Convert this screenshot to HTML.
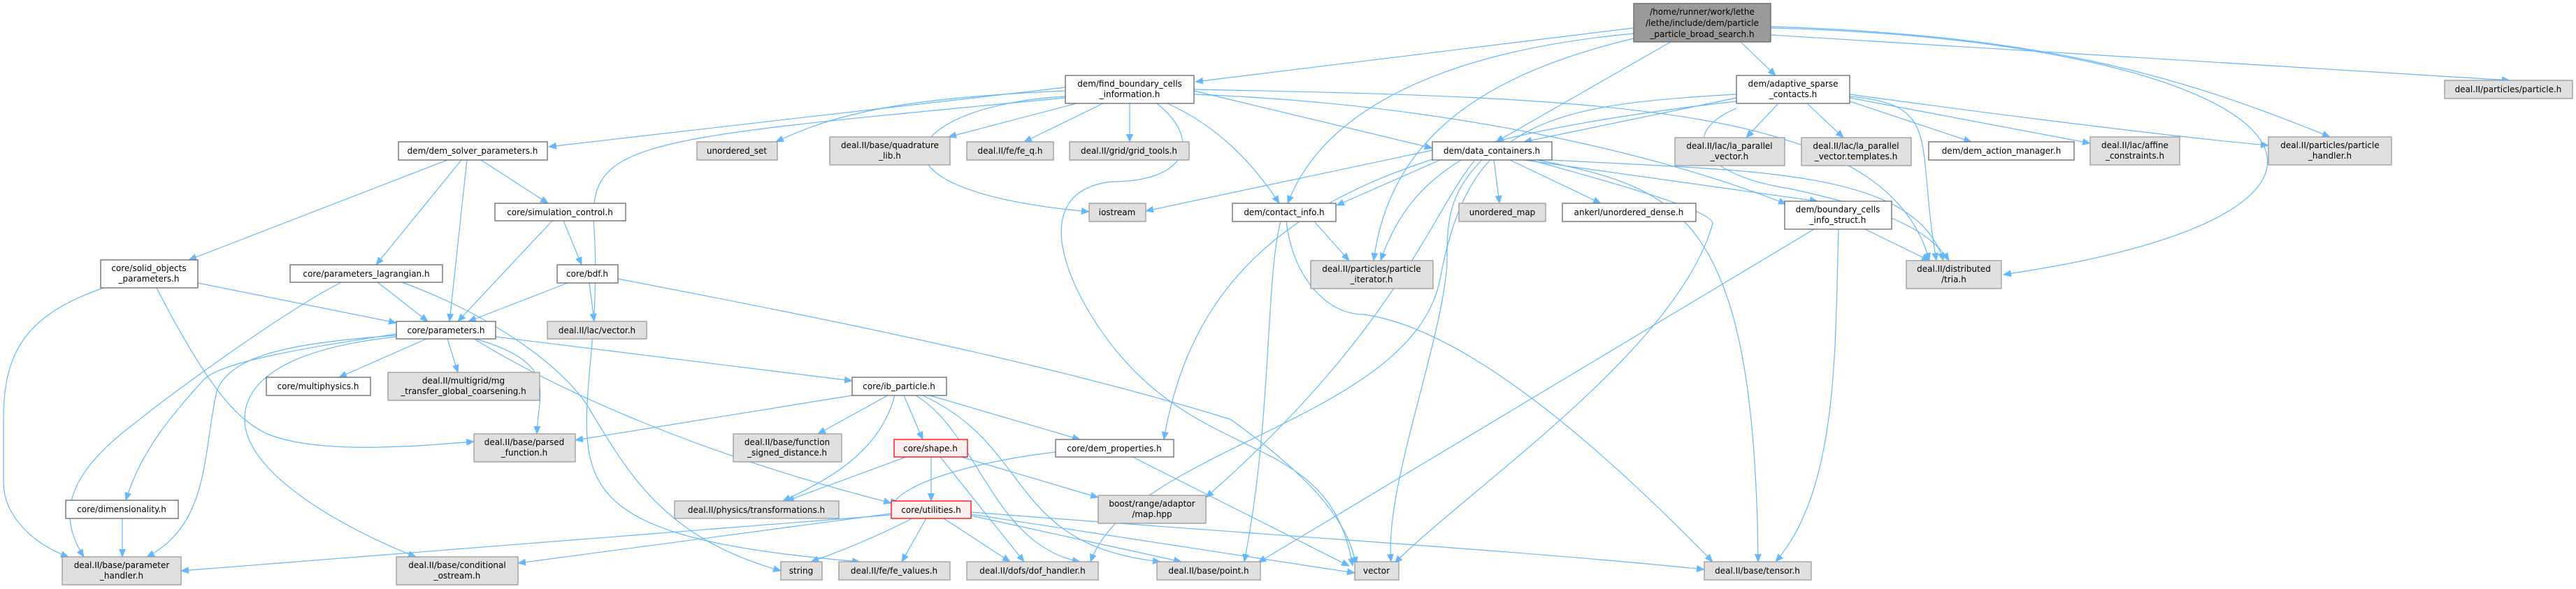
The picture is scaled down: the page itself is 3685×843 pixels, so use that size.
<!DOCTYPE html>
<html><head><meta charset="utf-8"><style>
html,body{margin:0;padding:0;background:#fff;}
svg{display:block;}
text{font-family:"DejaVu Sans","Liberation Sans",sans-serif;font-size:12px;fill:#000;text-anchor:middle;}
.w{fill:#fff;stroke:#666;stroke-width:1.3}
.g{fill:#e0e0e0;stroke:#999;stroke-width:1.3}
.r{fill:#fff0f0;stroke:#f00;stroke-width:1.3}
.t{fill:#999;stroke:#666;stroke-width:1.3}
.e path{fill:none;stroke:#63b8ff;stroke-width:1.2;marker-end:url(#a)}
</style></head><body>
<svg width="3685" height="843" viewBox="0 0 3685 843" xmlns="http://www.w3.org/2000/svg">
<defs><marker id="a" markerWidth="12" markerHeight="10" refX="11" refY="5" orient="auto" markerUnits="userSpaceOnUse"><path d="M0,0 L12,5 L0,10 z" fill="#63b8ff"/></marker></defs>
<g class="e">
<!-- top node -->
<path d="M2337,40 L1710,117"/>
<path d="M2337,48 C2100,70 1900,140 1842,291"/>
<path d="M2390,60 L2140,203"/>
<path d="M2490,60 L2540,108"/>
<path d="M2337,55 C2150,100 1990,180 1965,373"/>
<path d="M2533,40 C3300,60 3500,300 2866,393"/>
<path d="M2533,38 C2900,50 3100,100 3333,196"/>
<path d="M2533,50 L3590,115"/>
<!-- find_boundary -->
<path d="M1524,125 L785,210"/>
<path d="M1524,130 C1300,140 1200,160 1110,203"/>
<path d="M1540,148 L1357,196"/>
<path d="M1578,148 L1465,203"/>
<path d="M1616,148 L1616,203"/>
<path d="M1524,138 C1300,150 1200,270 1558,303"/>
<path d="M1670,148 C1740,180 1790,230 1830,291"/>
<path d="M1708,130 L2049,212"/>
<path d="M1708,135 C2100,150 2400,230 2555,292"/>
<path d="M1708,128 C2300,140 2700,150 2760,373"/>
<path d="M1655,148 C1720,200 1700,260 1590,260 C1500,270 1500,350 1560,450 C1700,680 1900,600 1935,810"/>
<path d="M1524,140 C900,200 840,200 850,330 C870,650 700,760 1230,804"/>
<!-- adaptive_sparse -->
<path d="M2484,140 L2180,203"/>
<path d="M2543,149 L2498,197"/>
<path d="M2586,149 L2637,197"/>
<path d="M2646,145 L2820,203"/>
<path d="M2646,140 L2990,205"/>
<path d="M2646,135 C2900,170 3150,200 3245,208"/>
<path d="M2646,138 C2780,150 2740,200 2770,373"/>
<path d="M2484,145 C2000,200 1720,300 1665,629"/>
<path d="M2484,155 C2400,190 2430,250 2560,270 C2700,300 2760,330 2788,373"/>
<path d="M2484,135 C2200,150 2100,180 2060,400 C2020,600 1620,640 1560,804"/>
<!-- data_containers -->
<path d="M2049,215 L1639,302"/>
<path d="M2060,229 L1912,294"/>
<path d="M2090,229 C2040,260 2000,300 1975,373"/>
<path d="M2137,229 L2145,291"/>
<path d="M2160,229 L2290,291"/>
<path d="M2180,229 L2600,288"/>
<path d="M2120,229 C2070,280 2070,320 2070,380 C2060,500 1980,700 1990,804"/>
<path d="M2190,229 C2300,260 2450,300 2450,320 C2400,500 2100,700 1995,806"/>
<path d="M2200,229 C2400,270 2510,300 2515,804"/>
<path d="M2220,229 C2500,245 2740,240 2780,373"/>
<path d="M2110,229 C2050,300 2000,470 1725,712"/>
<!-- boundary_cells -->
<path d="M2668,328 L2760,373"/>
<path d="M2630,328 C2625,500 2630,700 2540,804"/>
<path d="M2595,328 L1800,805"/>
<!-- contact_info -->
<path d="M1880,317 L1930,373"/>
<path d="M1832,317 C1810,400 1820,600 1780,804"/>
<path d="M1840,317 C1850,400 1900,450 1950,450 C2100,470 2300,650 2450,804"/>
<!-- dem_solver_parameters -->
<path d="M640,229 L270,372"/>
<path d="M660,229 L538,379"/>
<path d="M668,229 L643,460"/>
<path d="M688,229 L784,291"/>
<!-- simulation_control -->
<path d="M790,316 L655,460"/>
<path d="M806,316 L832,379"/>
<!-- bdf -->
<path d="M812,405 L670,460"/>
<path d="M843,405 L850,460"/>
<path d="M884,399 C1200,460 1500,520 1760,600 C1900,700 1930,760 1940,808"/>
<!-- solid_objects -->
<path d="M148,412 C40,450 5,500 5,600 L5,690 C5,740 50,780 98,797"/>
<path d="M283,405 L567,462"/>
<path d="M224,412 C300,560 340,600 380,620 C450,650 580,640 678,632"/>
<!-- parameters_lagrangian -->
<path d="M488,404 C400,450 250,560 200,600 C120,660 70,720 120,797"/>
<path d="M540,404 L612,460"/>
<path d="M575,404 C700,450 800,520 840,580 C900,680 950,770 1117,817"/>
<!-- parameters.h -->
<path d="M610,485 L485,540"/>
<path d="M640,485 L655,533"/>
<path d="M680,485 C800,520 770,560 768,621"/>
<path d="M709,482 L1219,545"/>
<path d="M678,485 C800,560 1000,650 1275,720"/>
<path d="M567,478 C420,500 310,520 290,545 C240,600 200,650 180,716"/>
<path d="M567,480 C430,490 330,505 310,560 C290,650 300,750 210,797"/>
<path d="M567,482 C400,500 350,550 350,600 C350,680 500,760 595,797"/>
<!-- ib_particle -->
<path d="M1219,566 L823,630"/>
<path d="M1270,566 L1170,621"/>
<path d="M1280,566 C1260,640 1200,680 1120,717"/>
<path d="M1293,566 L1320,629"/>
<path d="M1330,566 L1545,629"/>
<path d="M1310,566 C1400,620 1420,780 1545,804"/>
<path d="M1320,566 C1480,640 1440,780 1660,804"/>
<!-- shape -->
<path d="M1332,654 L1332,717"/>
<path d="M1375,654 L1571,712"/>
<path d="M1296,654 L1125,717"/>
<path d="M1345,654 L1465,804"/>
<!-- dem_properties -->
<path d="M1510,647 C1400,660 1290,690 1275,725"/>
<path d="M1620,654 L1930,810"/>
<!-- utilities -->
<path d="M1275,737 L259,817"/>
<path d="M1275,735 L741,806"/>
<path d="M1305,742 C1250,770 1200,790 1160,804"/>
<path d="M1325,742 L1290,804"/>
<path d="M1350,742 L1445,804"/>
<path d="M1389,738 L1690,804"/>
<path d="M1389,736 L1938,820"/>
<path d="M1389,733 C1800,765 2200,790 2438,815"/>
<!-- dimensionality -->
<path d="M175,742 L175,797"/>
</g>
<!-- nodes -->
<rect class="t" x="2337" y="5" width="196" height="55"/>
<text x="2435" y="21">/home/runner/work/lethe</text><text x="2435" y="37">/lethe/include/dem/particle</text><text x="2435" y="53">_particle_broad_search.h</text>

<rect class="w" x="1524" y="108" width="184" height="40"/><text x="1616" y="124">dem/find_boundary_cells</text><text x="1616" y="139">_information.h</text>
<rect class="w" x="2484" y="108" width="162" height="40"/><text x="2565" y="124">dem/adaptive_sparse</text><text x="2565" y="139">_contacts.h</text>
<rect class="g" x="3497" y="115" width="183" height="26"/><text x="3588" y="132">deal.II/particles/particle.h</text>

<rect class="w" x="570" y="203" width="213" height="26"/><text x="676" y="220">dem/dem_solver_parameters.h</text>
<rect class="g" x="997" y="203" width="115" height="26"/><text x="1054" y="220">unordered_set</text>
<rect class="g" x="1187" y="196" width="172" height="40"/><text x="1273" y="212">deal.II/base/quadrature</text><text x="1273" y="227">_lib.h</text>
<rect class="g" x="1383" y="203" width="124" height="26"/><text x="1445" y="220">deal.II/fe/fe_q.h</text>
<rect class="g" x="1530" y="203" width="171" height="26"/><text x="1615" y="220">deal.II/grid/grid_tools.h</text>
<rect class="w" x="2049" y="203" width="171" height="26"/><text x="2134" y="220">dem/data_containers.h</text>
<rect class="g" x="2396" y="197" width="157" height="40"/><text x="2474" y="213">deal.II/lac/la_parallel</text><text x="2474" y="228">_vector.h</text>
<rect class="g" x="2577" y="197" width="157" height="40"/><text x="2655" y="213">deal.II/lac/la_parallel</text><text x="2655" y="228">_vector.templates.h</text>
<rect class="w" x="2759" y="203" width="208" height="26"/><text x="2863" y="220">dem/dem_action_manager.h</text>
<rect class="g" x="2990" y="196" width="128" height="40"/><text x="3054" y="212">deal.II/lac/affine</text><text x="3054" y="227">_constraints.h</text>
<rect class="g" x="3245" y="196" width="176" height="40"/><text x="3333" y="212">deal.II/particles/particle</text><text x="3333" y="227">_handler.h</text>

<rect class="w" x="708" y="291" width="187" height="25"/><text x="801" y="308">core/simulation_control.h</text>
<rect class="g" x="1558" y="291" width="81" height="26"/><text x="1598" y="308">iostream</text>
<rect class="w" x="1763" y="291" width="148" height="26"/><text x="1837" y="308">dem/contact_info.h</text>
<rect class="g" x="2087" y="291" width="124" height="26"/><text x="2149" y="308">unordered_map</text>
<rect class="w" x="2235" y="291" width="191" height="26"/><text x="2330" y="308">ankerl/unordered_dense.h</text>
<rect class="w" x="2553" y="288" width="153" height="40"/><text x="2629" y="304">dem/boundary_cells</text><text x="2629" y="319">_info_struct.h</text>

<rect class="w" x="144" y="372" width="139" height="40"/><text x="213" y="388">core/solid_objects</text><text x="213" y="403">_parameters.h</text>
<rect class="w" x="415" y="379" width="218" height="25"/><text x="524" y="396">core/parameters_lagrangian.h</text>
<rect class="w" x="797" y="379" width="87" height="26"/><text x="840" y="396">core/bdf.h</text>
<rect class="g" x="1875" y="373" width="175" height="40"/><text x="1962" y="389">deal.II/particles/particle</text><text x="1962" y="404">_iterator.h</text>
<rect class="g" x="2727" y="373" width="136" height="40"/><text x="2795" y="389">deal.II/distributed</text><text x="2795" y="404">/tria.h</text>

<rect class="w" x="567" y="460" width="142" height="25"/><text x="638" y="477">core/parameters.h</text>
<rect class="g" x="783" y="460" width="142" height="25"/><text x="854" y="477">deal.II/lac/vector.h</text>

<rect class="w" x="381" y="540" width="149" height="26"/><text x="455" y="557">core/multiphysics.h</text>
<rect class="g" x="555" y="533" width="217" height="40"/><text x="663" y="549">deal.II/multigrid/mg</text><text x="663" y="564">_transfer_global_coarsening.h</text>
<rect class="w" x="1219" y="540" width="135" height="26"/><text x="1286" y="557">core/ib_particle.h</text>

<rect class="g" x="678" y="621" width="145" height="40"/><text x="750" y="637">deal.II/base/parsed</text><text x="750" y="652">_function.h</text>
<rect class="g" x="1049" y="621" width="155" height="40"/><text x="1126" y="637">deal.II/base/function</text><text x="1126" y="652">_signed_distance.h</text>
<rect class="r" x="1279" y="629" width="105" height="25"/><text x="1331" y="646">core/shape.h</text>
<rect class="w" x="1510" y="629" width="169" height="25"/><text x="1594" y="646">core/dem_properties.h</text>
<rect class="g" x="1571" y="709" width="154" height="40"/><text x="1648" y="725">boost/range/adaptor</text><text x="1648" y="740">/map.hpp</text>

<rect class="w" x="94" y="716" width="161" height="26"/><text x="174" y="733">core/dimensionality.h</text>
<rect class="g" x="965" y="717" width="235" height="25"/><text x="1082" y="734">deal.II/physics/transformations.h</text>
<rect class="r" x="1275" y="717" width="114" height="25"/><text x="1332" y="734">core/utilities.h</text>

<rect class="g" x="89" y="797" width="170" height="40"/><text x="174" y="813">deal.II/base/parameter</text><text x="174" y="828">_handler.h</text>
<rect class="g" x="567" y="797" width="174" height="40"/><text x="654" y="813">deal.II/base/conditional</text><text x="654" y="828">_ostream.h</text>
<rect class="g" x="1117" y="804" width="59" height="26"/><text x="1146" y="821">string</text>
<rect class="g" x="1200" y="804" width="159" height="26"/><text x="1279" y="821">deal.II/fe/fe_values.h</text>
<rect class="g" x="1383" y="804" width="188" height="26"/><text x="1477" y="821">deal.II/dofs/dof_handler.h</text>
<rect class="g" x="1655" y="804" width="148" height="26"/><text x="1729" y="821">deal.II/base/point.h</text>
<rect class="g" x="1938" y="804" width="63" height="26"/><text x="1969" y="821">vector</text>
<rect class="g" x="2438" y="804" width="153" height="26"/><text x="2514" y="821">deal.II/base/tensor.h</text>
</svg>
</body></html>
